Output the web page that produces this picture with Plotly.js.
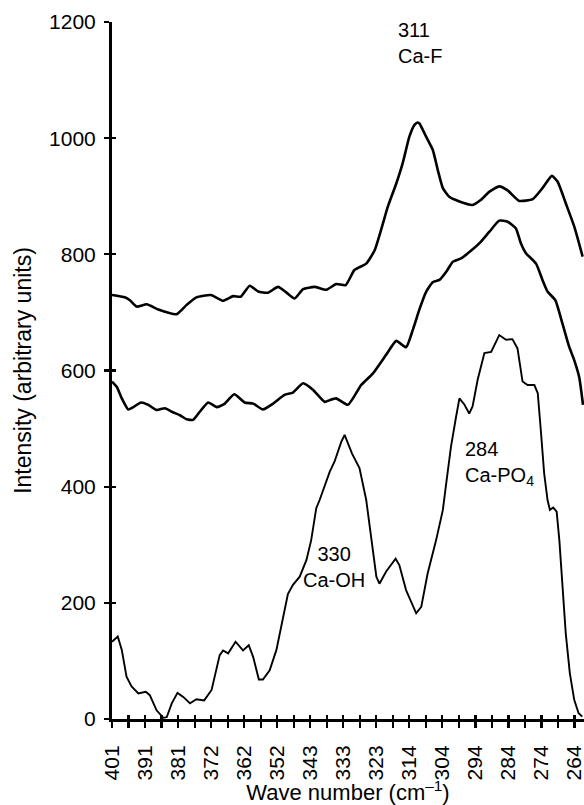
<!DOCTYPE html>
<html>
<head>
<meta charset="utf-8">
<script src="https://cdn.plot.ly/plotly-3.0.1.min.js"></script>
<style>html,body{margin:0;padding:0;background:#fff;}#chart{width:584px;height:805px;}</style>
</head>
<body>
<div id="chart"></div>
<script>
// Top spectrum (Ca-F band at ~311)
const topX = [401.0,397.2,395.7,393.7,390.7,387.3,381.9,378.9,376.0,371.7,368.1,365.1,362.9,360.2,357.7,354.8,351.8,349.3,346.9,344.4,341.0,337.5,334.6,331.8,329.2,325.7,323.2,321.3,319.3,316.8,314.9,312.9,311.4,310.4,309.9,308.0,306.0,304.5,303.0,301.1,298.1,294.2,291.7,289.2,286.3,283.8,280.4,276.4,273.5,270.7,269.0,266.6,264.1,261.6];
const topY = [730,726,721,710,714,705,697,713,726,730,720,728,727,746,736,734,744,734,724,740,744,739,749,747,773,784,807,842,882,922,957,1003,1023,1027,1025,1003,980,945,914,899,891,885,894,908,917,910,892,895,914,935,925,888,848,796];

// Middle spectrum
const midX = [401.0,399.6,398.1,396.2,394.7,392.4,390.3,387.8,385.3,383.3,380.9,378.9,377.0,375.0,372.5,370.0,367.8,364.8,361.7,359.2,356.3,353.3,349.9,347.4,344.4,341.5,338.0,336.5,334.6,331.1,327.2,323.7,319.8,316.8,313.9,311.9,309.9,308.0,306.0,304.0,302.0,300.1,297.6,294.7,291.7,289.2,286.3,283.8,281.4,279.9,278.4,275.4,273.5,272.0,269.7,267.6,265.6,264.1,262.6,261.5];
const midY = [581,572,552,533,537,545,541,532,535,529,523,516,515,529,545,537,542,559,545,543,533,543,558,562,578,567,546,549,552,541,575,595,627,651,640,670,706,735,752,756,770,787,793,806,822,839,858,856,845,819,802,784,756,736,721,681,641,618,588,541];

// Bottom spectrum (Ca-OH at 330, Ca-PO4 at 284)
const botX = [401.0,399.3,398.1,396.7,395.2,393.2,391.0,389.8,387.8,385.8,384.8,383.3,381.6,379.9,377.9,376.0,373.7,371.5,369.1,368.1,366.6,364.4,362.2,360.5,359.2,357.5,356.3,354.3,352.3,350.4,348.9,347.4,345.4,343.4,342.0,340.5,339.5,336.5,335.1,333.1,332.1,329.9,327.7,325.7,324.2,322.7,321.8,319.8,317.0,315.9,313.9,310.9,309.4,307.5,305.0,303.0,302.0,300.6,299.1,298.1,296.6,295.2,294.2,292.7,290.7,288.7,286.3,284.3,282.4,280.9,279.4,277.9,275.9,274.9,274.0,273.0,272.0,271.3,270.3,269.3,268.5,267.6,266.6,265.4,264.1,262.8,261.7];
const botY = [133,142,119,73,56,44,47,41,15,2,3,27,45,38,27,34,32,50,110,118,113,133,118,127,107,68,68,84,119,170,215,231,245,274,308,363,377,426,443,477,489,457,432,377,308,245,233,254,276,265,222,182,193,251,308,360,406,469,520,552,541,526,538,584,630,632,661,653,654,638,581,575,575,561,498,423,377,360,364,357,308,228,147,79,33,10,4];

const tickLabels = ['401','391','381','372','362','352','343','333','323','314','304','294','284','274','264'];
const yTicks = [0,200,400,600,800,1000,1200];

const xStart = 401, xEnd = 264;
const n = tickLabels.length - 1;
const tickPos = tickLabels.map((_, i) => xStart - i * (xStart - xEnd) / n);
const minorPos = [];
for (let i = 0; i < n; i++) minorPos.push(xStart - (i + 0.5) * (xStart - xEnd) / n);
const allPos = tickPos.concat(minorPos);

const FONT = 'Liberation Sans, Arial, sans-serif';
const black = '#000';

const traces = [
  {x: topX, y: topY, mode: 'lines', line: {color: black, width: 2.6, shape: 'spline', smoothing: 0.5}, hoverinfo: 'skip'},
  {x: midX, y: midY, mode: 'lines', line: {color: black, width: 2.6, shape: 'spline', smoothing: 0.5}, hoverinfo: 'skip'},
  {x: botX, y: botY, mode: 'lines', line: {color: black, width: 1.9, shape: 'linear'}, hoverinfo: 'skip'},
  {x: [], y: [], xaxis: 'x2', yaxis: 'y2', mode: 'lines', hoverinfo: 'skip'}
];

const xRange = [401, 261.2];
const layout = {
  width: 584, height: 805,
  margin: {l: 112, r: 0, t: 22, b: 86},
  paper_bgcolor: '#fff', plot_bgcolor: '#fff',
  showlegend: false,
  font: {family: FONT, color: black},
  xaxis: {
    range: xRange, tickmode: 'array', tickvals: tickPos, ticktext: tickLabels,
    tickangle: -90, tickfont: {size: 21, family: FONT, color: black},
    ticks: 'outside', ticklen: 6, tickwidth: 2.2, tickcolor: black,
    minor: {tickmode: 'array', tickvals: minorPos, ticks: 'outside', ticklen: 6, tickwidth: 2.2, tickcolor: black, showgrid: false},
    showline: true, linewidth: 3, linecolor: black, showgrid: false, zeroline: false,
    ticklabelstandoff: 9, ticklabeloverflow: 'allow',
    title: {text: 'Wave number (cm<sup>–1</sup>)', font: {size: 22, family: FONT, color: black}, standoff: 14}
  },
  yaxis: {
    range: [0, 1200], tickmode: 'array', tickvals: yTicks,
    tickfont: {size: 21, family: FONT, color: black},
    ticks: 'outside', ticklen: 5, tickwidth: 2.2, tickcolor: black,
    showline: true, linewidth: 3, linecolor: black, showgrid: false, zeroline: false,
    ticklabelstandoff: 4, ticklabeloverflow: 'allow',
    title: {text: 'Intensity (arbitrary units)', font: {size: 23, family: FONT, color: black}, standoff: 12}
  },
  xaxis2: {
    overlaying: 'x', anchor: 'y2', matches: 'x', range: xRange,
    tickmode: 'array', tickvals: allPos, ticks: 'inside', ticklen: 4, tickwidth: 2.2, tickcolor: black,
    showticklabels: false, showline: false, showgrid: false, zeroline: false
  },
  yaxis2: {
    overlaying: 'y', anchor: 'x2', matches: 'y', range: [0, 1200],
    tickmode: 'array', tickvals: yTicks, ticks: 'inside', ticklen: 4, tickwidth: 2.2, tickcolor: black,
    showticklabels: false, showline: false, showgrid: false, zeroline: false
  },
  annotations: [
    {xref: 'paper', yref: 'paper', x: (396 - 112) / 472, y: (719 - 43) / 697, xanchor: 'left', yanchor: 'middle', align: 'left', showarrow: false,
     text: '311<br>Ca-F', font: {size: 20, family: FONT, color: black}},
    {xref: 'paper', yref: 'paper', x: (334 - 112) / 472, y: (719 - 567) / 697, xanchor: 'center', yanchor: 'middle', align: 'center', showarrow: false,
     text: '330<br>Ca-OH', font: {size: 20, family: FONT, color: black}},
    {xref: 'paper', yref: 'paper', x: (463 - 112) / 472, y: (719 - 463) / 697, xanchor: 'left', yanchor: 'middle', align: 'left', showarrow: false,
     text: '284<br>Ca-PO<sub>4</sub>', font: {size: 20, family: FONT, color: black}}
  ]
};

Plotly.newPlot('chart', traces, layout, {staticPlot: true, displayModeBar: false});
</script>
</body>
</html>
